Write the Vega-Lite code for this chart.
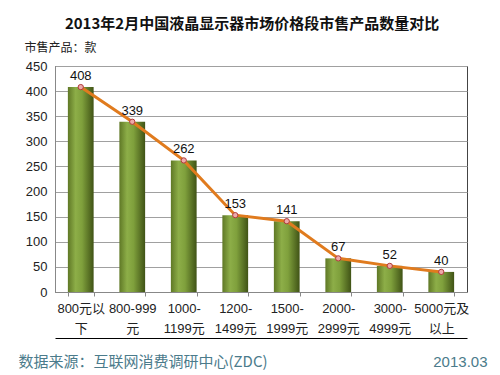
{
  "$schema": "https://vega.github.io/schema/vega-lite/v6.json",
  "width": 412,
  "height": 226,
  "autosize": {"type": "none"},
  "padding": {"left": 55, "top": 66, "right": 33, "bottom": 83},
  "background": "white",
  "title": {
    "text": "2013年2月中国液晶显示器市场价格段市售产品数量对比",
    "font": "Noto Sans CJK SC",
    "fontSize": 15,
    "fontWeight": "bold",
    "color": "#111111",
    "anchor": "middle",
    "dx": -9,
    "offset": 9
  },
  "config": {
    "view": {"stroke": "#444444", "strokeWidth": 1},
    "font": "Liberation Sans, Noto Sans CJK SC",
    "axis": {"labelFont": "Liberation Sans, Noto Sans CJK SC", "titleFont": "Noto Sans CJK SC"}
  },
  "data": {
    "values": [
      {"seg": "800元以\n下", "n": 408},
      {"seg": "800-999\n元", "n": 339},
      {"seg": "1000-\n1199元", "n": 262},
      {"seg": "1200-\n1499元", "n": 153},
      {"seg": "1500-\n1999元", "n": 141},
      {"seg": "2000-\n2999元", "n": 67},
      {"seg": "3000-\n4999元", "n": 52},
      {"seg": "5000元及\n以上", "n": 40}
    ]
  },
  "encoding": {
    "y": {
      "field": "n",
      "type": "quantitative",
      "scale": {"domain": [0, 450]},
      "axis": {
        "values": [0, 50, 100, 150, 200, 250, 300, 350, 400, 450],
        "labelFontSize": 13,
        "labelColor": "#222222",
        "labelPadding": 8,
        "ticks": false,
        "domainColor": "#888888",
        "gridColor": "#a0a0a0",
        "gridOpacity": 1,
        "title": "市售产品：款",
        "titleFontSize": 12,
        "titleFontWeight": "normal",
        "titleColor": "#222222",
        "titleAngle": 0,
        "titleX": -31,
        "titleY": -19,
        "titleAlign": "left",
        "titleBaseline": "middle"
      }
    }
  },
  "layer": [
    {
      "mark": {
        "type": "bar",
        "color": {
          "gradient": "linear",
          "x1": 0, "x2": 1, "y1": 0, "y2": 0,
          "stops": [
            {"offset": 0, "color": "#5f7826"},
            {"offset": 0.3, "color": "#8dae48"},
            {"offset": 0.55, "color": "#7fa03c"},
            {"offset": 1, "color": "#405316"}
          ]
        }
      },
      "encoding": {
        "x": {
          "field": "seg",
          "type": "nominal",
          "sort": null,
          "scale": {"type": "band", "paddingInner": 0.5, "paddingOuter": 0.25},
          "axis": {
            "labelAngle": 0,
            "labelExpr": "split(datum.label, '\\n')",
            "labelFontSize": 13,
            "labelColor": "#222222",
            "labelLineHeight": 20,
            "labelPadding": 6,
            "labelBaseline": "top",
            "tickBand": "extent",
            "tickColor": "#888888",
            "tickSize": 4,
            "domainColor": "#888888",
            "title": "数据来源：互联网消费调研中心(ZDC)",
            "titleFontSize": 15,
            "titleFontWeight": "normal",
            "titleColor": "#4b7b8b",
            "titleX": -37,
            "titleY": 69,
            "titleAlign": "left",
            "titleBaseline": "middle",
            "titleAnchor": "start"
          }
        }
      }
    },
    {
      "mark": {"type": "line", "color": "#e07b1e", "strokeWidth": 3},
      "encoding": {
        "x": {
          "field": "seg",
          "type": "nominal",
          "sort": null,
          "axis": {
            "orient": "bottom",
            "offset": 46,
            "labels": false,
            "ticks": false,
            "domainColor": "black",
            "title": "2013.03",
            "titleFont": "Liberation Sans",
            "titleFontSize": 15,
            "titleFontWeight": "normal",
            "titleColor": "#4b7b8b",
            "titleX": 432,
            "titleY": 23,
            "titleAlign": "right",
            "titleBaseline": "middle"
          }
        }
      }
    },
    {
      "mark": {"type": "point", "shape": "circle", "size": 28, "filled": true, "fill": "#eeaaaa", "stroke": "#b03a3a", "strokeWidth": 1, "opacity": 1},
      "encoding": {
        "x": {
          "field": "seg",
          "type": "nominal",
          "sort": null,
          "axis": null
        }
      }
    },
    {
      "mark": {"type": "text", "dy": -11, "fontSize": 13, "color": "#111111", "font": "Liberation Sans"},
      "encoding": {
        "x": {
          "field": "seg",
          "type": "nominal",
          "sort": null,
          "axis": null
        },
        "text": {"field": "n", "type": "quantitative"}
      }
    }
  ],
  "resolve": {"scale": {"x": "independent"}}
}
